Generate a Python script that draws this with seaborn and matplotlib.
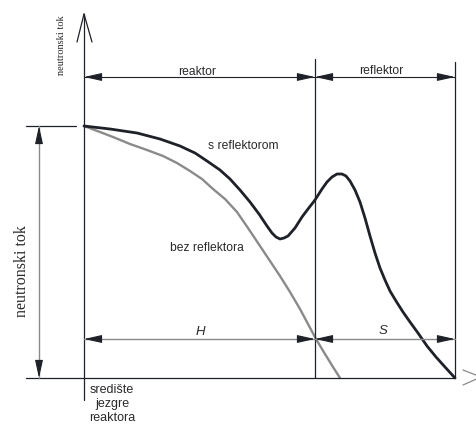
import numpy as np
import pandas as pd
import seaborn as sns
import matplotlib.pyplot as plt

sns.set_theme(style="white")
plt.rcParams['font.family'] = ['Liberation Sans', 'DejaVu Sans']

# curve points, drawing units (x to the right, y downwards)
s_refl_x = [84, 110, 137, 160, 180, 195, 207, 220, 230, 240, 250, 259, 267, 272, 276, 280, 284,
            288, 295, 302, 308, 315, 322, 327, 332, 337, 342, 346, 350, 355, 360, 365, 370,
            375, 380, 385, 390, 396, 403, 410, 418, 427, 436, 445, 455]
s_refl_y = [127, 130, 134, 140, 147, 154, 162, 171, 180, 191, 203, 215, 227, 234, 238, 240, 239,
            237, 229, 218, 210, 201, 190, 183, 178, 175, 175, 177, 182, 191, 203, 219, 237,
            254, 269, 281, 292, 302, 313, 323, 334, 347, 358, 368, 379]
bez_refl_x = [84, 100, 113, 130, 147, 163, 177, 190, 202, 213, 225, 237, 248, 260, 270, 280,
              290, 300, 308, 316, 325, 333, 340]
bez_refl_y = [127, 133, 138, 145, 151, 157, 164, 172, 180, 190, 200, 213, 229, 247, 262, 277,
              293, 310, 325, 340, 355, 368, 379]

# frame geometry
x_core = 84        # centre of core
x_bound = 315      # reactor / reflector boundary
x_edge = 455       # outer edge of reflector
y_base = 379       # zero flux
y_top = 127        # max flux
y_dim_top = 78
y_dim_bot = 340
x_dim_left = 39

dark = '#1e2228'
grey = '#8a8a8a'
tcol = '#2a2a2a'

fig = plt.figure(figsize=(4.77, 4.27), dpi=100)
ax = fig.add_axes([0, 0, 1, 1])
ax.set_xlim(0, 477)
ax.set_ylim(427, 0)
ax.axis('off')

df1 = pd.DataFrame({'x': s_refl_x, 'y': s_refl_y})
df2 = pd.DataFrame({'x': bez_refl_x, 'y': bez_refl_y})
sns.lineplot(data=df2, x='x', y='y', sort=False, estimator=None, color=grey, lw=1.7, ax=ax)
sns.lineplot(data=df1, x='x', y='y', sort=False, estimator=None, color=dark, lw=2.0, ax=ax)

# axes / frame lines
ax.plot([x_core, x_core], [15, 401], color=dark, lw=0.9)
ax.plot([x_core, 77], [15, 43], color=dark, lw=0.9)
ax.plot([x_core, 92], [15, 43], color=dark, lw=0.9)
ax.plot([26, x_edge], [y_base, y_base], color=dark, lw=0.9)
ax.plot([463, 481], [371, 378], color=grey, lw=0.9)
ax.plot([463, 481], [386, 378], color=grey, lw=0.9)
ax.plot([x_bound, x_bound], [60, y_base], color=dark, lw=0.9)
ax.plot([x_edge, x_edge], [63, y_base], color=dark, lw=0.9)
ax.plot([26, 76], [y_top, y_top], color=dark, lw=0.9)

# dimension lines
ax.plot([x_core, x_edge], [y_dim_top, y_dim_top], color=dark, lw=0.8)
ax.plot([x_core, x_edge], [y_dim_bot, y_dim_bot], color=grey, lw=1.0)
ax.plot([x_dim_left, x_dim_left], [y_top, y_base], color=grey, lw=1.0)

head = dict(arrowstyle='-|>,head_length=0.9,head_width=0.2', color=dark, lw=0.8,
            shrinkA=0, shrinkB=0, mutation_scale=12)
for y in [y_dim_top, y_dim_bot]:
    for a, b in [(x_core, x_bound), (x_bound, x_edge)]:
        ax.annotate('', xy=(a, y), xytext=(a + 16, y), arrowprops=head)
        ax.annotate('', xy=(b, y), xytext=(b - 16, y), arrowprops=head)
ax.annotate('', xy=(x_dim_left, y_top), xytext=(x_dim_left, y_top + 16), arrowprops=head)
ax.annotate('', xy=(x_dim_left, y_base), xytext=(x_dim_left, y_base - 16), arrowprops=head)

# labels
txt = dict(ha='center', va='center', color=tcol, fontsize=8.7)
ax.text(197, 72, 'reaktor', **txt)
ax.text(381, 71, 'reflektor', **txt)
ax.text(243, 146, 's reflektorom', **txt)
ax.text(207, 248, 'bez reflektora', **txt)
ax.text(112, 404, 'središte\njezgre\nreaktora', linespacing=1.2,
        ha='center', va='center', color=tcol, fontsize=9)
ax.text(200, 332, 'H', style='italic', ha='center', va='center', color=tcol, fontsize=9.5)
ax.text(383, 331, 'S', style='italic', ha='center', va='center', color=tcol, fontsize=9.5)
ax.text(62, 45, 'neutronski tok', rotation=90, ha='center', va='center', color=tcol,
        fontsize=7.5, family=['Liberation Serif', 'DejaVu Serif'])
ax.text(22, 271, 'neutronski tok', rotation=90, ha='center', va='center', color=tcol,
        fontsize=11.5, family=['Liberation Serif', 'DejaVu Serif'])

plt.savefig('out.png', dpi=100)
